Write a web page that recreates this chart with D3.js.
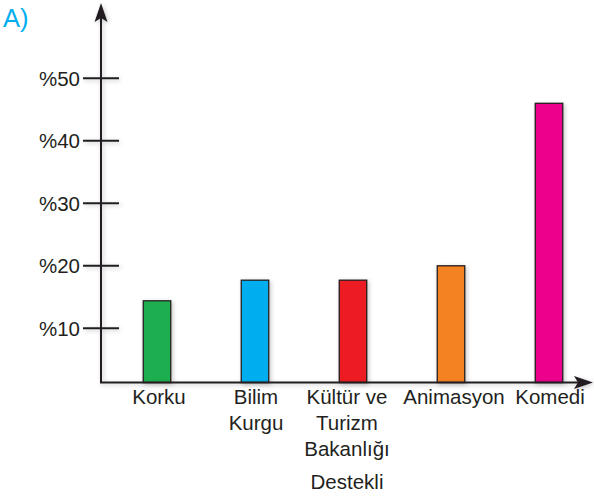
<!DOCTYPE html>
<html><head><meta charset="utf-8">
<script src="https://cdn.jsdelivr.net/npm/d3@7"></script>
<style>
html,body{margin:0;padding:0;background:#fff;}
svg{display:block;}
text{font-family:"Liberation Sans",Arial,Helvetica,sans-serif;fill:#231f20;}
</style></head>
<body>
<svg id="c" width="594" height="499"></svg>
<script>
const categories = [["Korku"], ["Bilim","Kurgu"], ["Kültür ve","Turizm","Bakanlığı","Destekli"], ["Animasyon"], ["Komedi"]];
const values = [14.4, 17.7, 17.7, 20, 46];
const colors = ["#1fae4f", "#00aeef", "#ed1c24", "#f58220", "#ec008c"];
const tickValues = [10, 20, 30, 40, 50];
const tickLabels = ["%10", "%20", "%30", "%40", "%50"];
const panelLabel = "A)";

const svg = d3.select("#c");
const defs = svg.append("defs");
const f = defs.append("filter").attr("id","sh").attr("x","-20%").attr("y","-20%").attr("width","150%").attr("height","150%");
f.append("feDropShadow").attr("dx",1.5).attr("dy",1.5).attr("stdDeviation",2).attr("flood-color","#000").attr("flood-opacity",0.22);

const axisX = 101, axisY = 382.5;
const names = categories.map(c => c.join(" "));
const x = d3.scalePoint().domain(names).range([157, 549]);
const y = d3.scaleLinear().domain([0, 50]).range([390.8, 78.3]);
const bw = 27.5;
const nudge = [2, 1, -6, 3, 1];

// bars
svg.append("g").selectAll("rect").data(values).join("rect")
  .attr("x", (d,i) => x(names[i]) - bw/2)
  .attr("y", d => y(d))
  .attr("width", bw)
  .attr("height", d => axisY - y(d))
  .attr("fill", (d,i) => colors[i])
  .attr("stroke", "#231f20").attr("stroke-width", 1.3)
  .attr("filter","url(#sh)");

// axes
const ax = svg.append("g").attr("filter","url(#sh)");
ax.append("line").attr("x1", axisX).attr("x2", axisX).attr("y1", axisY).attr("y2", 14)
  .attr("stroke","#231f20").attr("stroke-width",2);
ax.append("line").attr("x1", axisX-1).attr("x2", 584).attr("y1", axisY).attr("y2", axisY)
  .attr("stroke","#231f20").attr("stroke-width",2);
ax.append("path").attr("d", `M${axisX},3 L${axisX+6.5},22 L${axisX},18 L${axisX-6.5},22 Z`).attr("fill","#231f20");
ax.append("path").attr("d", `M593,${axisY} L574,${axisY-6.5} L578,${axisY} L574,${axisY+6.5} Z`).attr("fill","#231f20");

// y ticks
ax.selectAll("line.t").data(tickValues).join("line").attr("class","t")
  .attr("x1", 83).attr("x2", 119).attr("y1", d => y(d)).attr("y2", d => y(d))
  .attr("stroke","#231f20").attr("stroke-width",2);
svg.selectAll("text.yl").data(tickValues).join("text").attr("class","yl")
  .attr("x", 80).attr("y", d => y(d) + 7.5)
  .attr("text-anchor","end").attr("font-size", 20.5)
  .text((d,i) => tickLabels[i]);

// x labels
const lineYs = [404, 430, 456, 489];
categories.forEach((lines, i) => {
  lines.forEach((t, j) => {
    svg.append("text").attr("x", x(names[i]) + nudge[i]).attr("y", lineYs[j])
      .attr("text-anchor","middle").attr("font-size", 20.5).text(t);
  });
});

svg.append("text").attr("x", 3).attr("y", 27).attr("font-size", 25.5)
  .style("fill","#00aeef").text(panelLabel);
</script>
</body></html>
